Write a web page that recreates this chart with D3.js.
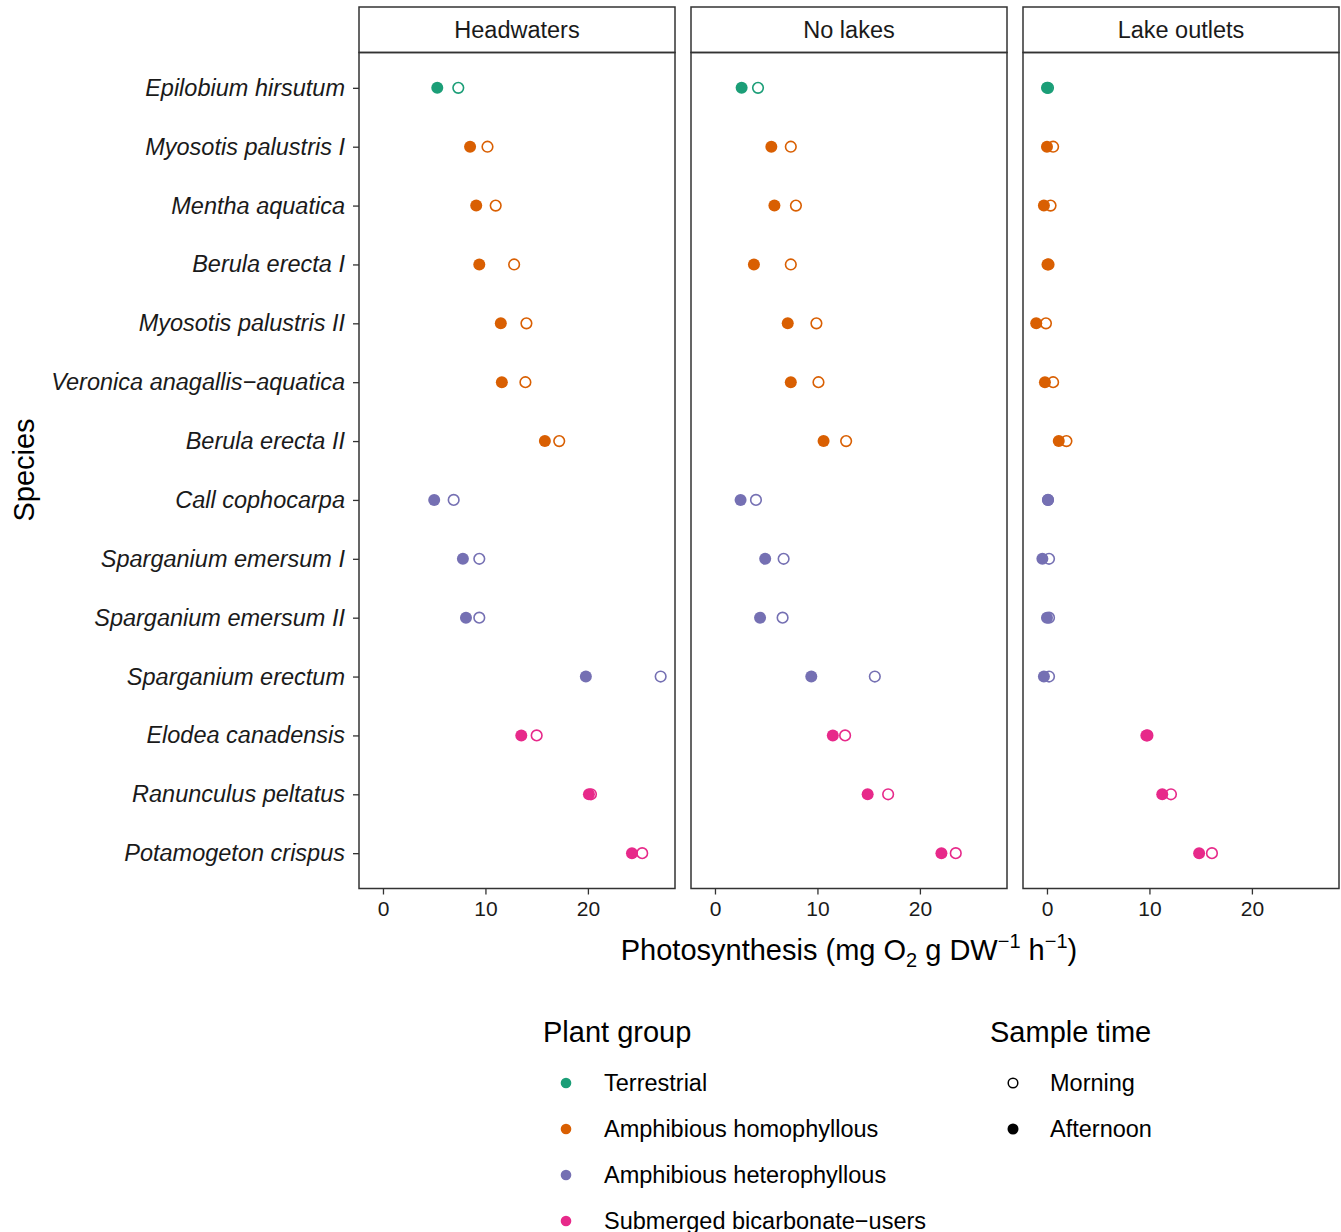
<!DOCTYPE html>
<html>
<head>
<meta charset="utf-8">
<script src="https://cdnjs.cloudflare.com/ajax/libs/d3/7.8.5/d3.min.js"></script>
<style>
  body { margin: 0; background: #fff; }
  svg { font-family: "Liberation Sans", Arial, sans-serif; }
</style>
</head>
<body>
<div id="chart"></div>
<script>
// Chart dimensions
const width = 1341;
const height = 1232;
const panelTop = 52.5, panelBottom = 888.5, stripTop = 7;
const panelLefts = [359, 691, 1023];
const panelWidth = 316;

// Data
const species = [
    "Epilobium hirsutum", "Myosotis palustris I", "Mentha aquatica", "Berula erecta I",
    "Myosotis palustris II", "Veronica anagallis\u2212aquatica", "Berula erecta II",
    "Call cophocarpa", "Sparganium emersum I", "Sparganium emersum II", "Sparganium erectum",
    "Elodea canadensis", "Ranunculus peltatus", "Potamogeton crispus"
];
const speciesGroup = [0, 1, 1, 1, 1, 1, 1, 2, 2, 2, 2, 3, 3, 3];
const groups = ["Terrestrial", "Amphibious homophyllous", "Amphibious heterophyllous", "Submerged bicarbonate\u2212users"];
const groupColors = ["#1B9E77", "#D95F02", "#7570B3", "#E7298A"];
const sites = ["Headwaters", "No lakes", "Lake outlets"];
const sampleTimes = ["Morning", "Afternoon"];

// photosynthesis per species, one array per site and sample time
const headMorning   = [7.35, 10.2, 11.0, 12.8, 14.0, 13.9, 17.2, 6.9, 9.4, 9.4, 27.1, 15.0, 20.3, 25.3];
const headAfternoon = [5.3, 8.5, 9.1, 9.4, 11.5, 11.6, 15.8, 5.0, 7.8, 8.1, 19.8, 13.5, 20.1, 24.3];
const noMorning     = [4.2, 7.4, 7.9, 7.4, 9.9, 10.1, 12.8, 4.0, 6.7, 6.6, 15.6, 12.7, 16.9, 23.5];
const noAfternoon   = [2.6, 5.5, 5.8, 3.8, 7.1, 7.4, 10.6, 2.5, 4.9, 4.4, 9.4, 11.5, 14.9, 22.1];
const outMorning    = [0.1, 0.6, 0.35, 0.15, -0.1, 0.6, 1.9, 0.1, 0.2, 0.2, 0.2, 9.8, 12.1, 16.1];
const outAfternoon  = [0.0, 0.0, -0.3, 0.05, -1.05, -0.2, 1.15, 0.1, -0.45, 0.0, -0.3, 9.7, 11.25, 14.85];

const xTicks = [0, 10, 20];
const xDomain = [-2.34, 28.5];

const siteData = [
    [headMorning, headAfternoon],
    [noMorning, noAfternoon],
    [outMorning, outAfternoon]
];

const svg = d3.select("#chart")
    .append("svg")
    .attr("width", width)
    .attr("height", height);

const y = d3.scalePoint()
    .domain(species)
    .range([panelTop, panelBottom])
    .padding(0.6);

const ink = "#333333";
const textInk = "#1a1a1a";

sites.forEach((site, si) => {
    const left = panelLefts[si];
    const x = d3.scaleLinear().domain(xDomain).range([left, left + panelWidth]);

    // strip
    svg.append("rect")
        .attr("x", left).attr("y", stripTop)
        .attr("width", panelWidth).attr("height", panelTop - stripTop)
        .attr("fill", "#fff").attr("stroke", ink).attr("stroke-width", 1.5);
    svg.append("text")
        .attr("x", left + panelWidth / 2)
        .attr("y", (stripTop + panelTop) / 2)
        .attr("dy", "0.36em")
        .attr("text-anchor", "middle")
        .attr("font-size", 23.5)
        .attr("fill", textInk)
        .text(site);

    // points
    const g = svg.append("g");
    const [morning, afternoon] = siteData[si];
    g.selectAll(".morning")
        .data(species)
        .join("circle")
        .attr("class", "morning")
        .attr("cx", (d, i) => x(morning[i]))
        .attr("cy", d => y(d))
        .attr("r", 5.3)
        .attr("fill", "none")
        .attr("stroke", (d, i) => groupColors[speciesGroup[i]])
        .attr("stroke-width", 1.6);
    g.selectAll(".afternoon")
        .data(species)
        .join("circle")
        .attr("class", "afternoon")
        .attr("cx", (d, i) => x(afternoon[i]))
        .attr("cy", d => y(d))
        .attr("r", 6)
        .attr("fill", (d, i) => groupColors[speciesGroup[i]]);

    // panel border
    svg.append("rect")
        .attr("x", left).attr("y", panelTop)
        .attr("width", panelWidth).attr("height", panelBottom - panelTop)
        .attr("fill", "none").attr("stroke", ink).attr("stroke-width", 1.5);

    // x axis
    const xAxis = d3.axisBottom(x).tickValues(xTicks).tickSize(6).tickPadding(7);
    const ax = svg.append("g")
        .attr("transform", `translate(0,${panelBottom})`)
        .call(xAxis);
    ax.select(".domain").remove();
    ax.selectAll(".tick line").attr("stroke", ink).attr("stroke-width", 1.3);
    ax.selectAll(".tick text").attr("font-size", 21).attr("fill", textInk)
        .attr("font-family", "Liberation Sans, Arial, sans-serif");
});

// y axis
const yAxis = d3.axisLeft(y).tickSize(6).tickPadding(8);
const ay = svg.append("g")
    .attr("transform", `translate(${panelLefts[0]},0)`)
    .call(yAxis);
ay.select(".domain").remove();
ay.selectAll(".tick line").attr("stroke", ink).attr("stroke-width", 1.3);
ay.selectAll(".tick text")
    .attr("font-size", 23.5)
    .attr("font-style", "italic")
    .attr("fill", textInk)
    .attr("font-family", "Liberation Sans, Arial, sans-serif");

// axis titles
svg.append("text")
    .attr("transform", `translate(34,470) rotate(-90)`)
    .attr("text-anchor", "middle")
    .attr("font-size", 29)
    .text("Species");

const xt = svg.append("text")
    .attr("x", 849)
    .attr("y", 960)
    .attr("text-anchor", "middle")
    .attr("font-size", 29);
xt.append("tspan").text("Photosynthesis (mg O");
xt.append("tspan").attr("font-size", 20).attr("dy", 7).text("2");
xt.append("tspan").attr("dy", -7).text(" g DW");
xt.append("tspan").attr("font-size", 20).attr("dy", -12).text("\u22121");
xt.append("tspan").attr("dy", 12).text(" h");
xt.append("tspan").attr("font-size", 20).attr("dy", -12).text("\u22121");
xt.append("tspan").attr("dy", 12).text(")");

// legend: plant group
const legRowY = [1083, 1129, 1175, 1221];
svg.append("text")
    .attr("x", 543).attr("y", 1042)
    .attr("font-size", 29)
    .text("Plant group");
groups.forEach((gname, i) => {
    svg.append("circle")
        .attr("cx", 566).attr("cy", legRowY[i]).attr("r", 5.3)
        .attr("fill", groupColors[i]);
    svg.append("text")
        .attr("x", 604).attr("y", legRowY[i]).attr("dy", "0.36em")
        .attr("font-size", 23.5)
        .text(gname);
});

// legend: sample time
svg.append("text")
    .attr("x", 990).attr("y", 1042)
    .attr("font-size", 29)
    .text("Sample time");
sampleTimes.forEach((t, i) => {
    const c = svg.append("circle")
        .attr("cx", 1013).attr("cy", legRowY[i]).attr("r", i === 0 ? 4.8 : 5.5);
    if (i === 0) c.attr("fill", "none").attr("stroke", "#000").attr("stroke-width", 1.5);
    else c.attr("fill", "#000");
    svg.append("text")
        .attr("x", 1050).attr("y", legRowY[i]).attr("dy", "0.36em")
        .attr("font-size", 23.5)
        .text(t);
});
</script>
</body>
</html>
